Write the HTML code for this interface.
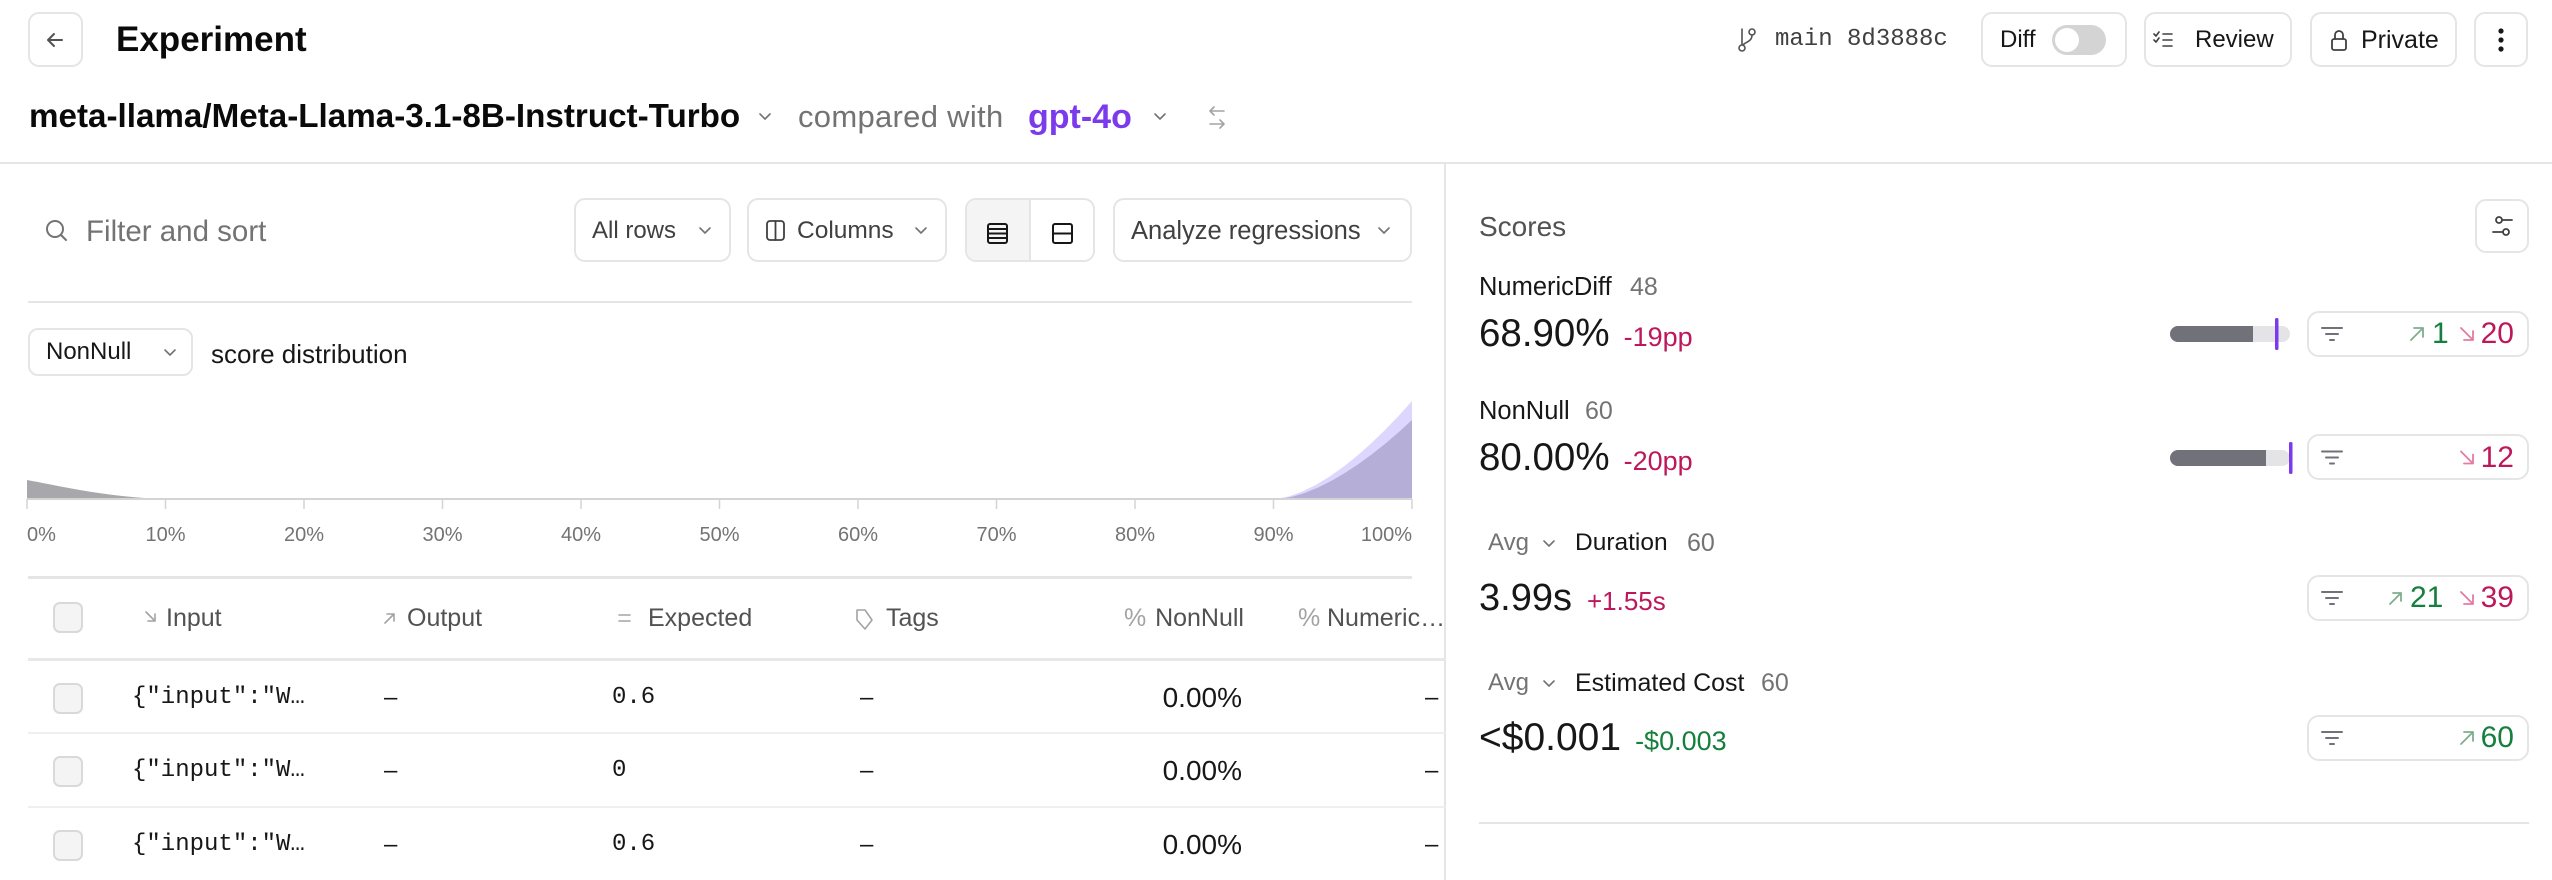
<!DOCTYPE html>
<html><head><meta charset="utf-8">
<style>
*{margin:0;padding:0;box-sizing:border-box}
html,body{width:2552px;height:880px;overflow:hidden;background:#fff}
body{position:relative;font-family:"Liberation Sans",sans-serif;color:#171717}
.t{position:absolute;white-space:nowrap;height:40px;line-height:40px}
.btn{position:absolute;border:2px solid #e5e5e5;border-radius:11px;background:#fff}
.m{font-family:"Liberation Mono",monospace}
.g{color:#737373}
.cb{position:absolute;left:53px;width:30px;height:31px;border:2px solid #d9d9d9;border-radius:7px;background:#f4f4f5}
.fb{position:absolute;left:2307px;width:222px;height:46px;border:2px solid #e5e5e5;border-radius:12px;background:#fff}
.big{position:absolute;left:1479px;height:50px;line-height:50px;white-space:nowrap;display:flex;align-items:baseline}
.pk{color:#be185d}
.gr{color:#15803d}
.num{position:absolute;white-space:nowrap;height:40px;line-height:40px;font-size:30px}
</style></head><body>

<!-- top bar -->
<div class="btn" style="left:28px;top:12px;width:55px;height:55px"></div>
<div class="t" style="left:116px;top:20px;font-size:35px;font-weight:700;color:#0a0a0a">Experiment</div>

<div class="t" style="left:29px;top:97px;font-size:33.2px;font-weight:700;color:#0a0a0a">meta-llama/Meta-Llama-3.1-8B-Instruct-Turbo</div>
<div class="t" style="left:798px;top:97px;font-size:31px;color:#737373;letter-spacing:0.3px">compared with</div>
<div class="t" style="left:1028px;top:97px;font-size:34px;font-weight:700;color:#7c3aed">gpt-4o</div>

<div class="t m" style="left:1775px;top:20px;font-size:24px;color:#404040">main 8d3888c</div>

<div class="btn" style="left:1981px;top:12px;width:146px;height:55px"></div>
<div class="t" style="left:2000px;top:20px;font-size:24px">Diff</div>
<div style="position:absolute;left:2052px;top:25px;width:54px;height:30px;border-radius:15px;background:#d4d4d4"></div>
<div style="position:absolute;left:2055px;top:28px;width:24px;height:24px;border-radius:12px;background:#fff"></div>

<div class="btn" style="left:2144px;top:12px;width:148px;height:55px"></div>
<div class="t" style="left:2195px;top:20px;font-size:24px">Review</div>
<div class="btn" style="left:2310px;top:12px;width:147px;height:55px"></div>
<div class="t" style="left:2361px;top:20px;font-size:25px">Private</div>
<div class="btn" style="left:2474px;top:12px;width:54px;height:55px"></div>

<!-- dividers -->
<div style="position:absolute;left:0;top:162px;width:2552px;height:2px;background:#e5e5e5"></div>
<div style="position:absolute;left:1444px;top:164px;width:2px;height:716px;background:#e5e5e5"></div>

<!-- toolbar -->
<div class="t" style="left:86px;top:212px;font-size:29.5px;color:#737373">Filter and sort</div>
<div class="btn" style="left:574px;top:198px;width:157px;height:64px"></div>
<div class="t" style="left:592px;top:211px;font-size:24px;color:#404040">All rows</div>
<div class="btn" style="left:747px;top:198px;width:200px;height:64px"></div>
<div class="t" style="left:797px;top:211px;font-size:24.5px;color:#404040">Columns</div>
<div class="btn" style="left:965px;top:198px;width:130px;height:64px;overflow:hidden"><div style="position:absolute;left:0;top:0;width:64px;height:60px;background:#f4f4f5;border-right:2px solid #e5e5e5"></div></div>
<div class="btn" style="left:1113px;top:198px;width:299px;height:64px"></div>
<div class="t" style="left:1131px;top:211px;font-size:25.5px;color:#404040">Analyze regressions</div>

<div style="position:absolute;left:28px;top:301px;width:1384px;height:2px;background:#e5e5e5"></div>

<div class="btn" style="left:28px;top:328px;width:165px;height:48px;border-radius:10px"></div>
<div class="t" style="left:46px;top:332px;font-size:24px">NonNull</div>
<div class="t" style="left:211px;top:334px;font-size:26px">score distribution</div>

<div style="position:absolute;left:28px;top:576px;width:1384px;height:3px;background:#e5e5e5"></div>

<!-- table -->
<div class="cb" style="top:602px"></div>
<div class="t" style="left:166px;top:598px;font-size:25px;color:#525252">Input</div>
<div class="t" style="left:407px;top:598px;font-size:25px;color:#525252">Output</div>
<div class="t" style="left:648px;top:598px;font-size:25px;color:#525252">Expected</div>
<div class="t" style="left:886px;top:598px;font-size:25px;color:#525252">Tags</div>
<div class="t" style="left:1124px;top:598px;font-size:25px;color:#a3a3a3">%</div>
<div class="t" style="right:1308px;top:598px;font-size:25px;color:#525252">NonNull</div>
<div class="t" style="left:1298px;top:598px;font-size:25px;color:#a3a3a3">%</div>
<div class="t" style="left:1327px;top:598px;font-size:25px;color:#525252;width:118px;overflow:hidden">Numeric…</div>

<div style="position:absolute;left:28px;top:658px;width:1417px;height:3px;background:#e8e8e8"></div>
<div style="position:absolute;left:28px;top:732px;width:1417px;height:2px;background:#efefef"></div>
<div style="position:absolute;left:28px;top:806px;width:1417px;height:2px;background:#efefef"></div>

<div class="cb" style="top:683px"></div>
<div class="t m" style="left:132px;top:678px;font-size:24px">{"input":"W…</div>
<div class="t" style="left:384px;top:678px;font-size:24px">–</div>
<div class="t m" style="left:612px;top:678px;font-size:24px">0.6</div>
<div class="t" style="left:860px;top:678px;font-size:24px">–</div>
<div class="t" style="right:1310px;top:678px;font-size:28px">0.00%</div>
<div class="t" style="left:1425px;top:678px;font-size:24px">–</div>

<div class="cb" style="top:756px"></div>
<div class="t m" style="left:132px;top:751px;font-size:24px">{"input":"W…</div>
<div class="t" style="left:384px;top:751px;font-size:24px">–</div>
<div class="t m" style="left:612px;top:751px;font-size:24px">0</div>
<div class="t" style="left:860px;top:751px;font-size:24px">–</div>
<div class="t" style="right:1310px;top:751px;font-size:28px">0.00%</div>
<div class="t" style="left:1425px;top:751px;font-size:24px">–</div>

<div class="cb" style="top:830px"></div>
<div class="t m" style="left:132px;top:825px;font-size:24px">{"input":"W…</div>
<div class="t" style="left:384px;top:825px;font-size:24px">–</div>
<div class="t m" style="left:612px;top:825px;font-size:24px">0.6</div>
<div class="t" style="left:860px;top:825px;font-size:24px">–</div>
<div class="t" style="right:1310px;top:825px;font-size:28px">0.00%</div>
<div class="t" style="left:1425px;top:825px;font-size:24px">–</div>

<!-- right panel -->
<div class="t" style="left:1479px;top:207px;font-size:28px;color:#525252">Scores</div>
<div class="btn" style="left:2475px;top:199px;width:54px;height:54px"></div>

<div class="t" style="left:1479px;top:267px;font-size:25.5px">NumericDiff</div>
<div class="t g" style="left:1630px;top:267px;font-size:25px">48</div>
<div class="big" style="top:309px"><span style="font-size:38.5px">68.90%</span><span class="pk" style="font-size:27px;margin-left:14px">-19pp</span></div>

<div class="t" style="left:1479px;top:391px;font-size:25.5px">NonNull</div>
<div class="t g" style="left:1585px;top:391px;font-size:25px">60</div>
<div class="big" style="top:433px"><span style="font-size:38.5px">80.00%</span><span class="pk" style="font-size:27px;margin-left:14px">-20pp</span></div>

<div class="t g" style="left:1488px;top:523px;font-size:24px">Avg</div>
<div class="t" style="left:1575px;top:523px;font-size:24.5px">Duration</div>
<div class="t g" style="left:1687px;top:523px;font-size:25px">60</div>
<div class="big" style="top:573px"><span style="font-size:38px">3.99s</span><span class="pk" style="font-size:26px;margin-left:15px">+1.55s</span></div>

<div class="t g" style="left:1488px;top:663px;font-size:24px">Avg</div>
<div class="t" style="left:1575px;top:663px;font-size:25px">Estimated Cost</div>
<div class="t g" style="left:1761px;top:663px;font-size:25px">60</div>
<div class="big" style="top:713px"><span style="font-size:39px">&lt;$0.001</span><span class="gr" style="font-size:27px;margin-left:14px">-$0.003</span></div>

<div style="position:absolute;left:1479px;top:822px;width:1050px;height:2px;background:#e5e5e5"></div>

<!-- filter boxes -->
<div class="fb" style="top:311px"></div>
<div class="fb" style="top:434px"></div>
<div class="fb" style="top:575px"></div>
<div class="fb" style="top:715px"></div>

<div class="num gr" style="left:2432px;top:314px">1</div>
<div class="num pk" style="right:38px;top:314px">20</div>
<div class="num pk" style="right:38px;top:438px">12</div>
<div class="num gr" style="left:2410px;top:578px">21</div>
<div class="num pk" style="right:38px;top:578px">39</div>
<div class="num gr" style="right:38px;top:718px">60</div>

<svg width="2552" height="880" style="position:absolute;left:0;top:0" xmlns="http://www.w3.org/2000/svg">
<g fill="none" stroke-linecap="round" stroke-linejoin="round">
  <path d="M62 40 H48 M54 34 L48 40 L54 46" stroke="#525252" stroke-width="2"/>
  <g stroke="#737373" stroke-width="1.6">
    <polyline points="760,114 765,119 770,114"/>
    <polyline points="1155,114 1160,119 1165,114"/>
    <polyline points="700,228 705,233 710,228"/>
    <polyline points="916,228 921,233 926,228"/>
    <polyline points="1379,228 1384,233 1389,228"/>
    <polyline points="165,350 170,355 175,350"/>
    <polyline points="1544,541 1549,546 1554,541"/>
    <polyline points="1544,681 1549,686 1554,681"/>
  </g>
  <g stroke="#a3a3a3" stroke-width="1.6">
    <path d="M1224 111 H1210 M1214 107 L1210 111 L1214 115"/>
    <path d="M1210 124 H1224 M1220 120 L1224 124 L1220 128"/>
  </g>
  <g stroke="#525252" stroke-width="1.6">
    <path d="M1742 29 V44"/>
    <circle cx="1742" cy="48" r="3"/>
    <circle cx="1752" cy="32" r="3"/>
    <path d="M1752 35 C1752 42 1745 42 1743 45"/>
  </g>
  <g stroke="#404040" stroke-width="1.6">
    <path d="M2163 34 H2172 M2163 40 H2172 M2163 46 H2172"/>
    <path d="M2154 34 L2156 36 L2159 32 M2154 40 L2156 42 L2159 38"/>
  </g>
  <g stroke="#404040" stroke-width="1.8">
    <rect x="2332" y="39" width="14" height="11" rx="2"/>
    <path d="M2335 39 V35 a4 4 0 0 1 8 0 V39"/>
  </g>
  <g fill="#171717" stroke="none">
    <circle cx="2501" cy="31" r="2.6"/><circle cx="2501" cy="40" r="2.6"/><circle cx="2501" cy="49" r="2.6"/>
  </g>
  <g stroke="#737373" stroke-width="2">
    <circle cx="55" cy="229" r="8"/>
    <path d="M61 235 L66 240"/>
  </g>
  <g stroke="#404040" stroke-width="1.8">
    <rect x="767" y="221" width="17" height="19" rx="3"/>
    <path d="M775.5 221 V240"/>
  </g>
  <g stroke="#171717" stroke-width="2">
    <rect x="988" y="224" width="19" height="19" rx="2"/>
    <path d="M988 229 H1007 M988 233.5 H1007 M988 238 H1007"/>
    <rect x="1053" y="224" width="19" height="19" rx="2"/>
    <path d="M1053 233.5 H1072"/>
  </g>
  <g stroke="#404040" stroke-width="1.8">
    <path d="M2503 220 H2512"/><circle cx="2499" cy="220" r="3"/>
    <path d="M2493 232 H2502"/><circle cx="2506" cy="232" r="3"/>
  </g>
  <g stroke="#a3a3a3" stroke-width="1.6">
    <path d="M146 612 L155 621 M155 614 V621 H148"/>
    <path d="M385 623 L394 614 M387 614 H394 V621"/>
    <path d="M619 615 H630 M619 621 H630"/>
    <path d="M857 610 H865 L872 620 L865 629 L857 620 Z"/>
  </g>
</g>

<path d="M27 499 L27 480 C60 486 100 496 160 499 Z" fill="#a7a7ac"/>
<polygon fill="#ddd6fe" points="1275,499 1288.7,496.5 1302.4,491.5 1316.1,484.7 1329.8,476.4 1343.5,466.7 1357.2,455.7 1370.9,443.6 1384.6,430.4 1398.3,416.2 1412,401 1412,499"/>
<polygon fill="#b5aed6" points="1278,499 1291.4,497 1304.8,493 1318.2,487.5 1331.6,480.8 1345,472.9 1358.4,464.1 1371.8,454.4 1385.2,443.7 1398.6,432.3 1412,420 1412,499"/>
<line x1="27" y1="499" x2="1412" y2="499" stroke="#d4d4d4" stroke-width="2"/>
<g stroke="#d4d4d4" stroke-width="1.5">
  <line x1="27" y1="499" x2="27" y2="509"/><line x1="165.5" y1="499" x2="165.5" y2="509"/>
  <line x1="304" y1="499" x2="304" y2="509"/><line x1="442.5" y1="499" x2="442.5" y2="509"/>
  <line x1="581" y1="499" x2="581" y2="509"/><line x1="719.5" y1="499" x2="719.5" y2="509"/>
  <line x1="858" y1="499" x2="858" y2="509"/><line x1="996.5" y1="499" x2="996.5" y2="509"/>
  <line x1="1135" y1="499" x2="1135" y2="509"/><line x1="1273.5" y1="499" x2="1273.5" y2="509"/>
  <line x1="1412" y1="499" x2="1412" y2="509"/>
</g>
<g font-family="Liberation Sans, sans-serif" font-size="20" fill="#737373" text-anchor="middle">
  <text x="27" y="541" text-anchor="start">0%</text>
  <text x="165.5" y="541">10%</text><text x="304" y="541">20%</text><text x="442.5" y="541">30%</text>
  <text x="581" y="541">40%</text><text x="719.5" y="541">50%</text><text x="858" y="541">60%</text>
  <text x="996.5" y="541">70%</text><text x="1135" y="541">80%</text><text x="1273.5" y="541">90%</text>
  <text x="1412" y="541" text-anchor="end">100%</text>
</g>

<rect x="2170" y="326" width="120" height="16" rx="8" fill="#e4e4e7"/>
<path d="M2178 326 H2253 V342 H2178 A8 8 0 0 1 2178 326 Z" fill="#71717a"/>
<rect x="2275" y="318" width="3.5" height="32" rx="1.5" fill="#7c3aed"/>
<rect x="2170" y="450" width="120" height="16" rx="8" fill="#e4e4e7"/>
<path d="M2178 450 H2266 V466 H2178 A8 8 0 0 1 2178 450 Z" fill="#71717a"/>
<rect x="2289" y="442" width="3.5" height="32" rx="1.5" fill="#7c3aed"/>

<g stroke="#71717a" stroke-width="2" stroke-linecap="round">
  <path d="M2322 328 H2342 M2326 334 H2338 M2330 340 H2334"/>
  <path d="M2322 451.5 H2342 M2326 457.5 H2338 M2330 463.5 H2334"/>
  <path d="M2322 592 H2342 M2326 598 H2338 M2330 604 H2334"/>
  <path d="M2322 732 H2342 M2326 738 H2338 M2330 744 H2334"/>
</g>
<g fill="none" stroke-width="1.8" stroke-linecap="round" stroke-linejoin="round">
  <path d="M2411 340 L2423 328 M2414 328 H2423 V337" stroke="#7fae8e"/>
  <path d="M2461 328 L2473 340 M2473 331 V340 H2464" stroke="#e27ca3"/>
  <path d="M2461 451.5 L2473 463.5 M2473 454.5 V463.5 H2464" stroke="#e27ca3"/>
  <path d="M2390 604 L2401 593 M2393 593 H2401 V601" stroke="#7fae8e"/>
  <path d="M2461 592 L2473 604 M2473 595 V604 H2464" stroke="#e27ca3"/>
  <path d="M2461 744 L2473 732 M2464 732 H2473 V741" stroke="#7fae8e"/>
</g>
</svg>
</body></html>
